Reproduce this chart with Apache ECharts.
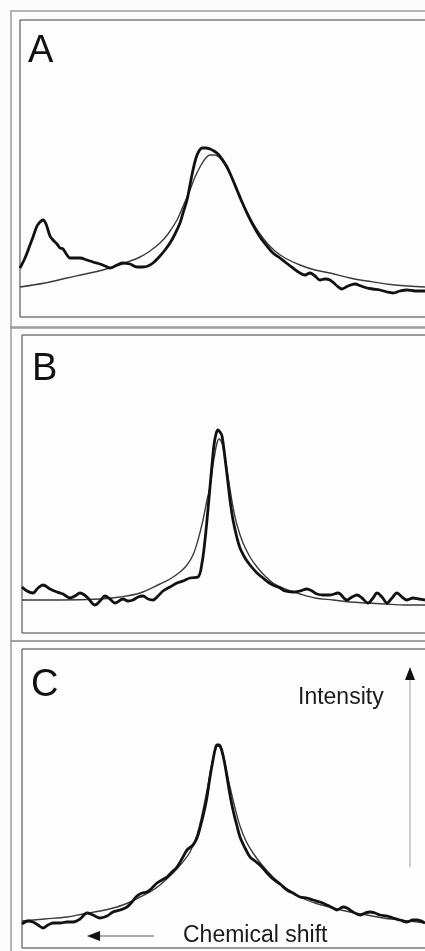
<!DOCTYPE html>
<html>
<head>
<meta charset="utf-8">
<script src="https://cdn.jsdelivr.net/npm/echarts@6/dist/echarts.min.js"></script>
<style>
  html, body { margin: 0; padding: 0; background: #fcfcfc; overflow: hidden; }
  #spectra { width: 425px; height: 951px; }
</style>
</head>
<body>
<div id="spectra"></div>
<script>
// x = chemical shift position (arbitrary units), y = intensity above baseline
const shiftA = [20,25,30,33,37,40,43,46,50,53,57,60,63,67,70,75,80,87,93,100,105,110,117,123,130,137,143,148,153,160,165,170,175,180,183,187,190,193,196,199,202,206,210,214,218,222,227,232,237,242,247,253,260,267,273,280,285,293,300,305,310,315,320,325,330,336,342,348,355,361,367,373,380,387,393,400,407,415,425];
const measuredA = [49,59,72,80,91,95,97,93,81,77,73,69,68,62,59,59,59,57,55,53,51,49,52,54,53,50,50,51,54,61,67,74,83,94,104,117,132,147,159,166,169,169,168,166,163,158,150,139,127,115,104,92,80,71,64,59,55,49,44,42,44,41,37,38,37,32,28,31,33,31,29,28,27,25,24,26,27,26,26];
const fitShiftA = [20,45,67,90,110,125,140,150,160,168,177,184,190,195,200,205,210,215,220,225,230,235,240,246,253,260,267,275,285,300,315,330,350,367,395,425];
const fitA = [30,34,39,44,49,54,60,66,74,83,97,113,127,140,150,158,162,162,159,152,144,132,120,107,94,83,74,66,59,52,47,44,39,36,32,30];

const shiftB = [22,27,33,38,43,50,57,63,70,75,80,87,95,100,105,110,115,123,128,133,138,143,148,153,158,163,170,177,183,190,198,202,205,207,210,212,214,216,218,220,222,225,228,230,233,237,240,245,250,257,263,268,273,280,285,293,300,307,312,317,323,330,338,347,352,357,362,368,373,377,382,387,392,397,402,407,413,419,425];
const measuredB = [46,42,40,45,48,44,41,39,35,37,40,36,28,32,37,34,30,34,32,33,36,37,34,33,37,42,46,50,52,55,56,70,93,113,146,168,188,199,203,201,197,175,150,133,113,95,85,75,68,60,55,51,48,45,42,41,42,44,42,39,38,38,40,33,36,38,35,30,35,40,36,30,35,40,36,33,35,34,33];
const fitShiftB = [22,60,100,120,140,160,170,180,187,193,198,203,207,210,213,215,217,219,221,223,225,227,230,233,237,243,250,257,265,273,285,300,315,333,350,367,385,405,425];
const fitB = [33,33,34,36,40,49,54,61,68,78,93,113,133,146,168,180,190,194,192,186,175,163,144,126,108,90,76,66,57,50,44,39,35,33,31,30,29,28,28];

const shiftC = [22,28,33,38,43,48,53,60,67,73,80,87,93,100,107,113,120,127,132,137,142,147,152,157,162,167,172,177,183,187,193,197,200,204,207,210,213,215,217,219,221,224,227,230,233,237,240,245,250,255,260,267,273,280,287,293,300,307,313,320,327,333,337,343,347,353,360,365,370,375,380,387,393,400,407,413,417,425];
const measuredC = [24,27,26,23,20,23,25,25,26,26,29,35,33,30,32,36,38,41,46,52,55,56,60,65,68,71,76,81,91,98,103,110,120,136,151,171,188,198,203,203,200,188,171,153,138,122,111,100,91,87,83,75,69,64,58,55,51,50,48,46,43,40,38,41,40,36,33,35,36,35,33,32,30,28,26,28,28,25];
const fitShiftC = [22,45,67,83,100,117,130,140,150,160,173,182,190,197,203,208,212,215,217,220,223,226,230,235,240,246,253,262,273,286,300,315,333,350,367,383,400,425];
const fitC = [27,29,31,34,37,41,46,51,56,63,75,85,96,113,138,163,185,198,202,201,194,180,161,140,122,107,95,83,71,60,51,45,40,36,33,30,28,25];

const panelLabels = ['A', 'B', 'C'];
const axisCaptions = ['Intensity', 'Chemical shift'];

const pair = (xs, ys) => xs.map((x, i) => [x, ys[i]]);

// panel boxes (inner plot frame); right edge runs past the canvas like the scan
const panels = [
  { left: 20, top: 20, height: 297, width: 410 },
  { left: 22, top: 335, height: 298, width: 408 },
  { left: 22, top: 649, height: 299, width: 408 }
];

const grid = panels.map(p => ({
  show: true,
  left: p.left,
  top: p.top,
  width: p.width,
  height: p.height,
  outerBoundsMode: 'none',
  containLabel: false,
  backgroundColor: '#fdfdfd',
  borderColor: '#3a3a3a',
  borderWidth: 1
}));

const xAxis = panels.map((p, i) => ({
  type: 'value', gridIndex: i, min: p.left, max: p.left + p.width, show: false
}));
const yAxis = panels.map((p, i) => ({
  type: 'value', gridIndex: i, min: 0, max: p.height, show: false
}));

const thick = { color: '#111', width: 2.8 };
const thin = { color: '#3c3c3c', width: 1.4 };

function line(data, idx, style, z) {
  return {
    type: 'line', xAxisIndex: idx, yAxisIndex: idx, data: data,
    showSymbol: false, symbol: 'none', smooth: 0.35,
    lineStyle: style, z: z, silent: true
  };
}

const series = [
  line(pair(fitShiftA, fitA), 0, thin, 2),
  line(pair(shiftA, measuredA), 0, thick, 3),
  line(pair(fitShiftB, fitB), 1, thin, 2),
  line(pair(shiftB, measuredB), 1, thick, 3),
  line(pair(fitShiftC, fitC), 2, thin, 2),
  line(pair(shiftC, measuredC), 2, thick, 3)
];

const labelFont = '"Liberation Sans", Arial, sans-serif';

const graphic = [
  // outer frames
  { type: 'rect', shape: { x: 11, y: 11, width: 430, height: 317 }, style: { fill: 'none', stroke: '#9a9a9a', lineWidth: 1.5 }, z: -1 },
  { type: 'rect', shape: { x: 11, y: 327, width: 430, height: 314 }, style: { fill: 'none', stroke: '#9a9a9a', lineWidth: 1.5 }, z: -1 },
  { type: 'rect', shape: { x: 11, y: 641, width: 430, height: 320 }, style: { fill: 'none', stroke: '#9a9a9a', lineWidth: 1.5 }, z: -1 },
  // panel letters
  { type: 'text', x: 28, y: 52, style: { text: panelLabels[0], font: '38px ' + labelFont, fill: '#111', verticalAlign: 'middle' }, z: 10 },
  { type: 'text', x: 32, y: 370, style: { text: panelLabels[1], font: '38px ' + labelFont, fill: '#111', verticalAlign: 'middle' }, z: 10 },
  { type: 'text', x: 31, y: 686, style: { text: panelLabels[2], font: '38px ' + labelFont, fill: '#111', verticalAlign: 'middle' }, z: 10 },
  // intensity caption + arrow
  { type: 'text', x: 298, y: 698, style: { text: axisCaptions[0], font: '23px ' + labelFont, fill: '#1a1a1a', verticalAlign: 'middle' }, z: 10 },
  { type: 'line', shape: { x1: 410, y1: 867, x2: 410, y2: 678 }, style: { stroke: '#bdbdbd', lineWidth: 1.5 }, z: 10 },
  { type: 'polygon', shape: { points: [[410, 667], [405, 680], [415, 680]] }, style: { fill: '#111' }, z: 10 },
  // chemical shift caption + arrow
  { type: 'text', x: 183, y: 936, style: { text: axisCaptions[1], font: '23px ' + labelFont, fill: '#1a1a1a', verticalAlign: 'middle' }, z: 10 },
  { type: 'line', shape: { x1: 154, y1: 936, x2: 98, y2: 936 }, style: { stroke: '#8c8c8c', lineWidth: 1.5 }, z: 10 },
  { type: 'polygon', shape: { points: [[87, 936], [100, 931], [100, 941]] }, style: { fill: '#111' }, z: 10 }
];

const chart = echarts.init(document.getElementById('spectra'));
chart.setOption({
  backgroundColor: '#fcfcfc',
  animation: false,
  grid: grid,
  xAxis: xAxis,
  yAxis: yAxis,
  series: series,
  graphic: graphic
});
</script>
</body>
</html>
